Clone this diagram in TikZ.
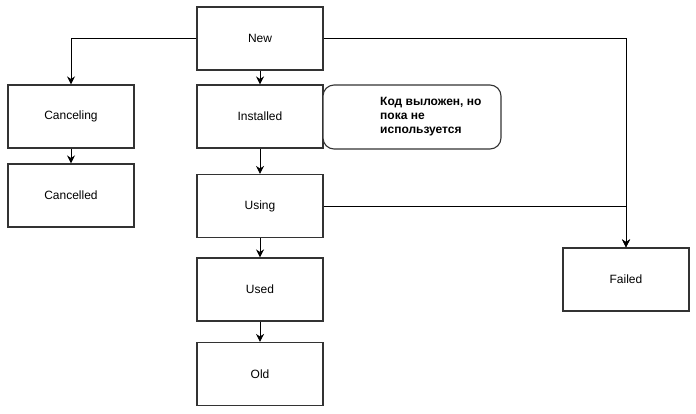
\documentclass[tikz,border=0pt]{standalone}
\usepackage{fontspec}
\setmainfont{Liberation Sans}
\usetikzlibrary{arrows.meta}
\begin{document}
\begin{tikzpicture}[x=1pt,y=-1pt,
  box/.style={draw=black!80,line width=1.1pt,fill=white,minimum width=126pt,minimum height=63pt,inner sep=0pt,font=\fontsize{12}{14}\selectfont},
  note/.style={draw=black!80,line width=1.1pt,fill=white,rounded corners=11pt,minimum width=178pt,minimum height=64pt,inner sep=0pt},
  conn/.style={line width=0.9pt,-{Stealth[length=8pt,width=8pt,inset=2.5pt]}}]
\useasboundingbox (0,0) rectangle (696,413);
\node[box] (new) at (260,38.5) {New};
\node[box] (inst) at (260,116.5) {Installed};
\node[box] (using) at (260,206) {Using};
\node[box] (used) at (260,289.5) {Used};
\node[box] (old) at (260,374) {Old};
\node[box] (cancing) at (71,116.5) {Canceling};
\node[box] (canced) at (71,195.5) {Cancelled};
\node[box] (failed) at (626,279.5) {Failed};
\node[note] (note) at (412,117) {};
\node[anchor=north west,align=left,inner sep=0pt,font=\bfseries\fontsize{12}{14}\selectfont] (notetext) at (380,97) {Код выложен, но\\пока не\\используется};
\draw[conn] (new.south) -- (inst.north);
\draw[conn] (inst.south) -- (using.north);
\draw[conn] (using.south) -- (used.north);
\draw[conn] (used.south) -- (old.north);
\draw[conn] (cancing.south) -- (canced.north);
\draw[conn] (new.west) -| (cancing.north);
\draw[conn] (new.east) -| (failed.north);
\draw[conn] (using.east) -| (failed.north);
\end{tikzpicture}
\end{document}
